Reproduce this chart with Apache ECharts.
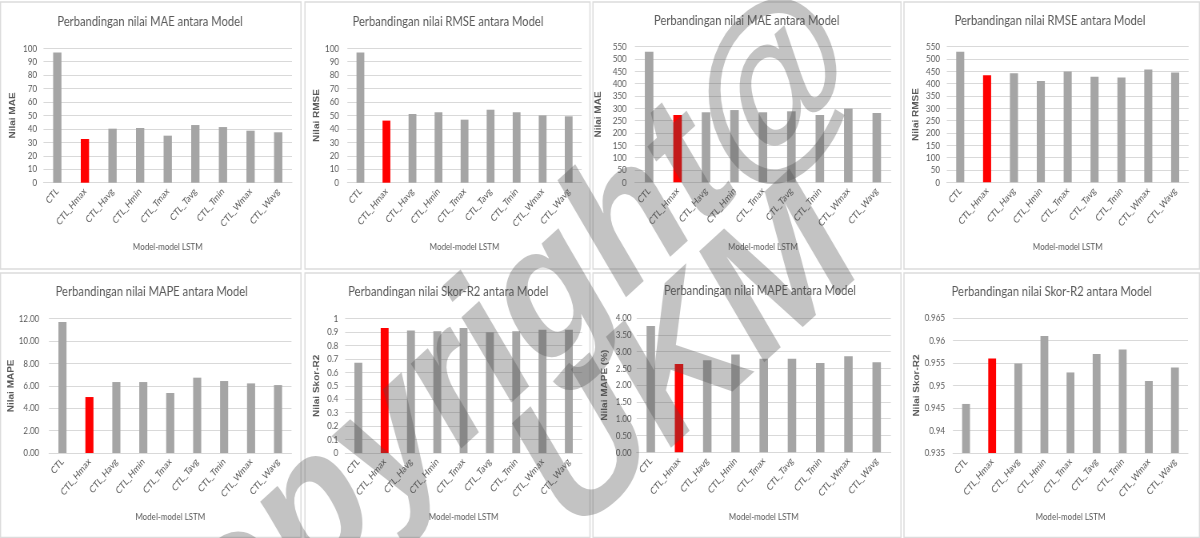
<!DOCTYPE html>
<html>
<head>
<meta charset="utf-8">
<title>Perbandingan nilai metrik antara Model</title>
<script src="https://cdn.jsdelivr.net/npm/echarts@6/dist/echarts.min.js"></script>
<style>
  html, body { margin: 0; padding: 0; background: #ffffff; overflow: hidden; }
  /* The figure is laid out on a wider canvas and compressed horizontally,
     which gives the narrow, condensed look of the exported report figure. */
  #chart { width: 1500px; height: 538px; transform: scaleX(0.8); transform-origin: 0 0; }
</style>
</head>
<body>
<div id="chart"></div>
<script>
// ---- data ----------------------------------------------------------------
const categories = ['CTL', 'CTL_Hmax', 'CTL_Havg', 'CTL_Hmin', 'CTL_Tmax', 'CTL_Tavg', 'CTL_Tmin', 'CTL_Wmax', 'CTL_Wavg'];
const bestModel = 'CTL_Hmax';

const maeSetA  = [96.8, 32.5, 40.2, 40.7, 35.0, 42.9, 41.4, 38.7, 37.5];
const rmseSetA = [96.8, 46.2, 51.1, 52.4, 46.9, 54.3, 52.4, 50.1, 49.4];
const maeSetB  = [530, 273, 284, 293, 284, 288, 273, 299, 281];
const rmseSetB = [530, 434, 442, 411, 449, 428, 425, 458, 445];
const mapeSetA = [11.70, 5.00, 6.34, 6.34, 5.36, 6.73, 6.43, 6.22, 6.07];
const r2SetA   = [0.672, 0.930, 0.913, 0.906, 0.930, 0.900, 0.906, 0.918, 0.918];
const mapeSetB = [3.76, 2.63, 2.74, 2.91, 2.79, 2.79, 2.66, 2.86, 2.68];
const r2SetB   = [0.9459, 0.956, 0.9549, 0.961, 0.9529, 0.957, 0.958, 0.951, 0.954];

// value-axis ranges: [min, max, interval]
const maeScaleA  = [0, 100, 10];
const rmseScaleA = [0, 100, 10];
const maeScaleB  = [0, 550, 50];
const rmseScaleB = [0, 550, 50];
const mapeScaleA = [0, 12, 2];
const r2ScaleA   = [0, 1, 0.1];
const mapeScaleB = [0, 4, 0.5];
const r2ScaleB   = [0.935, 0.965, 0.005];

const titles = [
  'Perbandingan nilai MAE antara Model',
  'Perbandingan nilai RMSE antara Model',
  'Perbandingan nilai MAE antara Model',
  'Perbandingan nilai RMSE antara Model',
  'Perbandingan nilai MAPE antara Model',
  'Perbandingan nilai Skor-R2 antara Model',
  'Perbandingan nilai MAPE antara Model',
  'Perbandingan nilai Skor-R2 antara Model'
];
const yNames = ['Nilai MAE', 'Nilai RMSE', 'Nilai MAE', 'Nilai RMSE', 'Nilai MAPE', 'Nilai Skor-R2', 'Nilai MAPE (%)', 'Nilai Skor-R2'];
const xName = 'Model-model LSTM';
const watermarkLines = ['Copyright@', 'UKM'];

// ---- layout (screen pixels; converted for the compressed canvas) ---------
const S = 0.8;
const X = px => px / S;

const TEXT = '#595959';
const GRID = '#d9d9d9';
const BAR = '#a5a5a5';
const BEST = '#ff0000';

const panels = [
  { values: maeSetA,  scale: maeScaleA,  dec: null, band: [43.5, 292.0],   top: 48.3,  bottom: 182.7, labelRight: 37.0,  nameX: 17.0,  titleX: 150.0,  titleY: 23 },
  { values: rmseSetA, scale: rmseScaleA, dec: null, band: [347.4, 581.7],  top: 48.3,  bottom: 182.7, labelRight: 339.0, nameX: 320.7, titleX: 448.0,  titleY: 23 },
  { values: maeSetB,  scale: maeScaleB,  dec: null, band: [634.9, 891.0],  top: 46.7,  bottom: 182.3, labelRight: 626.7, nameX: 602.7, titleX: 746.7,  titleY: 22 },
  { values: rmseSetB, scale: rmseScaleB, dec: null, band: [946.8, 1188.6], top: 46.7,  bottom: 182.3, labelRight: 940.0, nameX: 920.0, titleX: 1050.0, titleY: 22 },
  { values: mapeSetA, scale: mapeScaleA, dec: 2,    band: [49.0, 291.5],   top: 318.7, bottom: 453.0, labelRight: 39.3,  nameX: 18.3,  titleX: 151.7,  titleY: 293 },
  { values: r2SetA,   scale: r2ScaleA,   dec: null, band: [345.2, 582.0],  top: 318.7, bottom: 453.0, labelRight: 338.3, nameX: 320.7, titleX: 448.3,  titleY: 293 },
  { values: mapeSetB, scale: mapeScaleB, dec: 2,    band: [636.7, 890.8],  top: 318.0, bottom: 452.3, labelRight: 631.7, nameX: 609.0, titleX: 760.0,  titleY: 292 },
  { values: r2SetB,   scale: r2ScaleB,   dec: null, band: [953.0, 1188.0], top: 318.0, bottom: 453.0, labelRight: 945.0, nameX: 920.7, titleX: 1051.7, titleY: 293 }
];

// panel frames: [x, y, w, h]
const frames = [
  [0.5, 2, 300.5, 267], [305, 2, 285, 267], [593, 2, 308, 267], [904, 2, 295.5, 267],
  [0.5, 273, 300.5, 264.5], [305, 273, 285, 264.5], [593, 273, 308, 264.5], [904, 273, 295.5, 264.5]
];

function fmtValue(v, dec) {
  if (dec != null) return v.toFixed(dec);
  return String(+v.toFixed(4));
}

const option = {
  animation: false,
  backgroundColor: '#ffffff',
  title: [],
  grid: [],
  xAxis: [],
  yAxis: [],
  series: [],
  graphic: []
};

frames.forEach(f => {
  option.graphic.push({
    type: 'rect', silent: true, z: 0,
    shape: { x: X(f[0]), y: f[1], width: X(f[2]), height: f[3] },
    style: { fill: null, stroke: '#dcdcdc', lineWidth: 1.5 }
  });
});

panels.forEach((p, i) => {
  option.title.push({
    text: titles[i],
    left: X(p.titleX), top: p.titleY - 9, textAlign: 'center', padding: 0,
    textStyle: { color: TEXT, fontFamily: 'Lato', fontSize: 14, fontWeight: 'normal' }
  });
  option.grid.push({
    left: X(p.band[0]), width: X(p.band[1] - p.band[0]),
    top: p.top, height: p.bottom - p.top, containLabel: false
  });
  option.xAxis.push({
    type: 'category', gridIndex: i, data: categories,
    axisLine: { lineStyle: { color: GRID, width: 1 } },
    axisTick: { show: false },
    axisLabel: { rotate: 45, interval: 0, margin: 7, color: TEXT, fontFamily: 'Lato', fontSize: 10 },
    name: xName, nameLocation: 'middle', nameGap: 59,
    nameTextStyle: { color: TEXT, fontFamily: 'Lato', fontSize: 10 }
  });
  option.yAxis.push({
    type: 'value', gridIndex: i,
    min: p.scale[0], max: p.scale[1], interval: p.scale[2],
    axisLine: { show: false }, axisTick: { show: false },
    splitLine: { lineStyle: { color: GRID, width: 1 } },
    axisLabel: {
      margin: X(p.band[0] - p.labelRight), color: TEXT, fontFamily: 'Lato', fontSize: 10,
      formatter: v => fmtValue(v, p.dec)
    },
    name: yNames[i], nameLocation: 'middle', nameGap: X(p.band[0] - p.nameX),
    nameTextStyle: { color: TEXT, fontFamily: 'Liberation Sans', fontSize: 10, fontWeight: 'bold' }
  });
  option.series.push({
    type: 'bar', xAxisIndex: i, yAxisIndex: i,
    barWidth: '30%',
    data: p.values.map((v, k) => ({
      value: v,
      itemStyle: { color: categories[k] === bestModel ? BEST : BAR }
    }))
  });
});

// diagonal watermark across the figure
const wmAngle = Math.atan(S * Math.tan(42.5 * Math.PI / 180));
const wmCentres = [[471, 371], [690, 362]];
watermarkLines.forEach((line, i) => {
  option.graphic.push({
    type: 'text', silent: true, z: 100,
    x: X(wmCentres[i][0]), y: wmCentres[i][1], rotation: wmAngle,
    style: {
      text: line, align: 'center', verticalAlign: 'middle',
      fontFamily: 'Liberation Sans', fontWeight: 'bold', fontSize: 200,
      fill: 'rgba(80,80,80,0.34)'
    }
  });
});

const chart = echarts.init(document.getElementById('chart'), null, { renderer: 'canvas' });
chart.setOption(option);
</script>
</body>
</html>
